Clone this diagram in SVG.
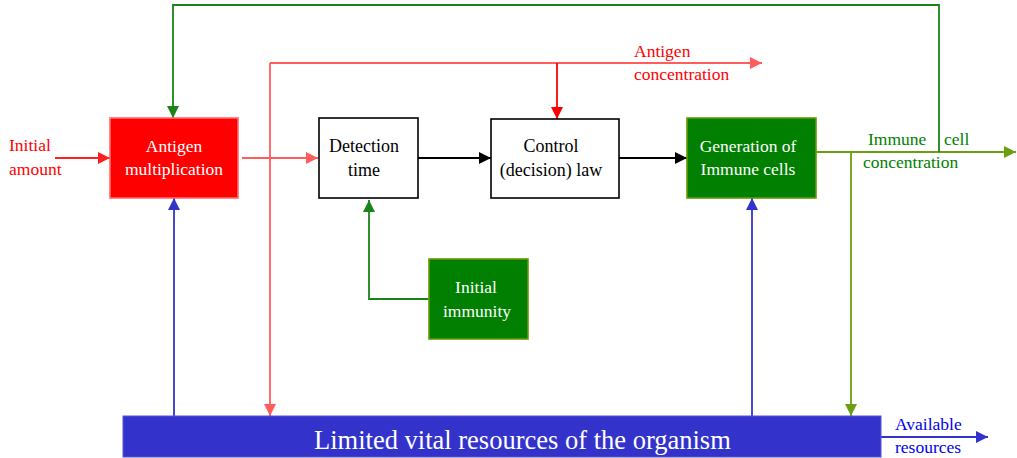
<svg xmlns="http://www.w3.org/2000/svg" width="1017" height="458" viewBox="0 0 1017 458">
<style>
text{font-family:"Liberation Serif","Tinos","DejaVu Serif",serif;font-size:17.5px}
text.s18{font-size:18px}
text.big{font-size:26.5px}
.wt{fill:#ffffff}
.bk{fill:#000000}
.rd{fill:#ff0000}
.gn{fill:#008000}
.bl{fill:#0000ee}
.c{fill:none;stroke-width:1.8}
</style>
<defs>
<marker id="aR" viewBox="0 0 12 12" markerWidth="12" markerHeight="12" refX="12" refY="6" orient="auto" markerUnits="userSpaceOnUse"><path d="M0,0 L12,6 L0,12 z" fill="#ff2020"/></marker>
<marker id="aLR" viewBox="0 0 12 12" markerWidth="12" markerHeight="12" refX="12" refY="6" orient="auto" markerUnits="userSpaceOnUse"><path d="M0,0 L12,6 L0,12 z" fill="#ff5c5c"/></marker>
<marker id="aPR" viewBox="0 0 12 12" markerWidth="12" markerHeight="12" refX="12" refY="6" orient="auto" markerUnits="userSpaceOnUse"><path d="M0,0 L12,6 L0,12 z" fill="#ff0000"/></marker>
<marker id="aK" viewBox="0 0 12 12" markerWidth="12" markerHeight="12" refX="12" refY="6" orient="auto" markerUnits="userSpaceOnUse"><path d="M0,0 L12,6 L0,12 z" fill="#000000"/></marker>
<marker id="aG" viewBox="0 0 12 12" markerWidth="12" markerHeight="12" refX="12" refY="6" orient="auto" markerUnits="userSpaceOnUse"><path d="M0,0 L12,6 L0,12 z" fill="#1a841a"/></marker>
<marker id="aO" viewBox="0 0 12 12" markerWidth="12" markerHeight="12" refX="12" refY="6" orient="auto" markerUnits="userSpaceOnUse"><path d="M0,0 L12,6 L0,12 z" fill="#6b9e12"/></marker>
<marker id="aB" viewBox="0 0 12 12" markerWidth="12" markerHeight="12" refX="12" refY="6" orient="auto" markerUnits="userSpaceOnUse"><path d="M0,0 L12,6 L0,12 z" fill="#3333cc"/></marker>
</defs>

<g id="connectors">
<path class="c" d="M55,158 H110" stroke="#ff2020" marker-end="url(#aR)"/>
<path class="c" d="M242,158 H318" stroke="#ff5c5c" marker-end="url(#aLR)"/>
<path class="c" d="M270,63 H762" stroke="#ff5c5c" marker-end="url(#aLR)"/>
<path class="c" d="M270,63 V416" stroke="#ff5c5c" marker-end="url(#aLR)"/>
<path class="c" d="M557,63 V119" stroke="#ff0000" marker-end="url(#aPR)"/>
<path class="c" d="M418,158 H491" stroke="#000000" marker-end="url(#aK)"/>
<path class="c" d="M619,158 H687" stroke="#000000" marker-end="url(#aK)"/>
<path class="c" d="M816,152 H1016" stroke="#6b9e12" marker-end="url(#aO)"/>
<path class="c" d="M851,152 V416" stroke="#6b9e12" marker-end="url(#aO)"/>
<path class="c" d="M939,152 V5 H173 V118" stroke="#1a841a" marker-end="url(#aG)"/>
<path class="c" d="M429,299 H369 V200" stroke="#1a841a" marker-end="url(#aG)"/>
<path class="c" d="M174,416 V198" stroke="#3333cc" stroke-width="1.3" marker-end="url(#aB)"/>
<path class="c" d="M752,416 V198" stroke="#3333cc" stroke-width="1.3" marker-end="url(#aB)"/>
<path class="c" d="M881,437 H988" stroke="#3333cc" marker-end="url(#aB)"/>
</g>

<g id="initial-amount-label">
<text class="rd" x="9" y="151">Initial</text>
<text class="rd" x="9" y="175">amount</text>
</g>

<g id="antigen-multiplication">
<rect x="110" y="118" width="128" height="80" fill="#ff0000" stroke="#ff6a6a" stroke-width="1.6"/>
<text class="wt" x="174" y="152" text-anchor="middle">Antigen</text>
<text class="wt" x="174" y="175" text-anchor="middle">multiplication</text>
</g>

<g id="detection-time">
<rect x="319" y="118" width="99" height="80" fill="#ffffff" stroke="#000000" stroke-width="1.6"/>
<text class="bk s18" x="364" y="152" text-anchor="middle">Detection</text>
<text class="bk s18" x="364" y="176" text-anchor="middle">time</text>
</g>

<g id="control-law">
<rect x="491" y="119" width="128" height="79" fill="#ffffff" stroke="#000000" stroke-width="1.6"/>
<text class="bk s18" x="551" y="152" text-anchor="middle">Control</text>
<text class="bk s18" x="551" y="176" text-anchor="middle">(decision) law</text>
</g>

<g id="generation-immune-cells">
<rect x="687" y="118" width="129" height="80" fill="#007f00" stroke="#669900" stroke-width="1.6"/>
<text class="wt" x="748" y="152" text-anchor="middle">Generation of</text>
<text class="wt" x="748" y="175" text-anchor="middle">Immune cells</text>
</g>

<g id="initial-immunity">
<rect x="429" y="259" width="99" height="80" fill="#007f00" stroke="#669900" stroke-width="1.6"/>
<text class="wt" x="476" y="293" text-anchor="middle">Initial</text>
<text class="wt" x="477" y="317" text-anchor="middle">immunity</text>
</g>

<g id="antigen-concentration-label">
<text class="rd" x="634" y="57">Antigen</text>
<text class="rd" x="634" y="80">concentration</text>
</g>

<g id="immune-cell-concentration-label">
<text class="gn" x="868" y="145">Immune</text>
<text class="gn" x="944" y="145">cell</text>
<text class="gn" x="863" y="168">concentration</text>
</g>

<g id="limited-resources">
<rect x="123" y="416" width="758" height="41" fill="#3333cc" stroke="#5555dd" stroke-width="1"/>
<text class="wt big" x="314" y="449">Limited vital resources of the organism</text>
</g>

<g id="available-resources-label">
<text class="bl" x="895" y="430">Available</text>
<text class="bl" x="895" y="453">resources</text>
</g>
</svg>
